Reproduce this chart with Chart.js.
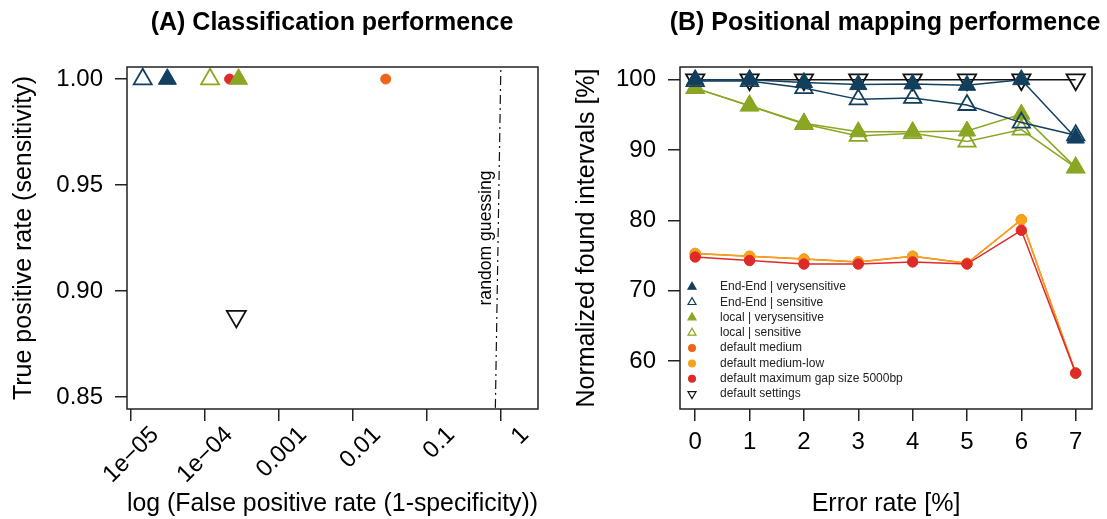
<!DOCTYPE html>
<html>
<head>
<meta charset="utf-8">
<script src="https://cdn.jsdelivr.net/npm/chart.js@4.4.0/dist/chart.umd.min.js"></script>
<style>
  html, body { margin: 0; padding: 0; background: #fff; overflow: hidden; width: 1107px; height: 519px; }
  #wrapA { position: absolute; left: 0; top: 0; width: 664px; height: 519px; }
  #wrapB { position: absolute; left: 553px; top: 0; width: 664px; height: 519px; }
</style>
</head>
<body>
<div id="wrapA"><canvas id="chartA" width="664" height="519"></canvas></div>
<div id="wrapB"><canvas id="chartB" width="664" height="519"></canvas></div>
<script>
// ---- panel A: classification ----
const classLabels = ['End-End | verysensitive', 'End-End | sensitive', 'local | verysensitive',
  'local | sensitive', 'default medium', 'default maximum gap size 5000bp', 'default settings'];
const classFpr = [3.1e-5, 1.44e-5, 2.84e-4, 1.17e-4, 0.0277, 2.15e-4, 2.65e-4];
const classTpr = [1, 1, 1, 1, 1, 1, 0.888];
const fprTicks = [1e-5, 1e-4, 1e-3, 1e-2, 1e-1, 1];
const fprTickLabels = ['1e\u221205', '1e\u221204', '0.001', '0.01', '0.1', '1'];
const tprTicks = [0.85, 0.90, 0.95, 1.00];
const tprTickLabels = ['0.85', '0.90', '0.95', '1.00'];
const randomLine = [0.8, 1.1]; // y = x

// ---- panel B: positional mapping ----
const errorRate = [0, 1, 2, 3, 4, 5, 6, 7];
const eeVery = [100, 100, 99.6, 99.3, 99.4, 99.2, 100, 91.7];
const eeSens = [99.8, 99.8, 98.8, 97.2, 97.4, 96.4, 93.9, 92.1];
const localVery = [98.8, 96.3, 93.8, 92.6, 92.6, 92.7, 95.1, 87.5];
const localSens = [98.8, 96.3, 93.7, 92.0, 92.4, 91.2, 92.9, 87.5];
const defMedium = [75.3, 74.9, 74.5, 74.1, 74.9, 73.9, 80.1, 58.3];
const defMediumLow = [75.3, 74.9, 74.5, 74.1, 74.9, 73.9, 80.1, 58.3];
const defMaxGap = [74.8, 74.3, 73.8, 73.8, 74.1, 73.8, 78.6, 58.3];
const defSettings = [100, 100, 100, 100, 100, 100, 100, 100];
const mapLabels = ['End-End | verysensitive', 'End-End | sensitive', 'local | verysensitive', 'local | sensitive',
  'default medium', 'default medium-low', 'default maximum gap size 5000bp', 'default settings'];
const mapYTicks = [60, 70, 80, 90, 100];

const FONT = '"Liberation Sans", Arial, sans-serif';
Chart.defaults.font.family = FONT;
Chart.defaults.color = '#000';

const blue = '#123f5e', green = '#8aa622', orange = '#f0631c', amber = '#f5a31c', red = '#df2a2a';

// marker style per series, in legend order
const styles = {
  'End-End | verysensitive': { c: blue, fill: blue, ps: 'triangle', rot: 0, order: 1 },
  'End-End | sensitive': { c: blue, fill: 'rgba(0,0,0,0)', ps: 'triangle', rot: 0, order: 2 },
  'local | verysensitive': { c: green, fill: green, ps: 'triangle', rot: 0, order: 3 },
  'local | sensitive': { c: green, fill: 'rgba(0,0,0,0)', ps: 'triangle', rot: 0, order: 4 },
  'default medium': { c: orange, fill: orange, ps: 'circle', rot: 0, order: 7 },
  'default medium-low': { c: amber, fill: amber, ps: 'circle', rot: 0, order: 6 },
  'default maximum gap size 5000bp': { c: red, fill: red, ps: 'circle', rot: 0, order: 5 },
  'default settings': { c: '#111', fill: 'rgba(0,0,0,0)', ps: 'triangle', rot: 180, order: 8 }
};

function markerProps(label, triR, circR) {
  const s = styles[label];
  const open = s.fill === 'rgba(0,0,0,0)';
  return {
    pointStyle: s.ps,
    pointRotation: s.rot,
    pointRadius: s.ps === 'circle' ? circR : (s.rot ? triR + 0.6 : triR),
    pointBorderColor: s.c,
    pointBackgroundColor: s.fill,
    pointBorderWidth: open ? 1.8 : 1,
    order: s.order
  };
}

// box around the plot region
const frame = {
  id: 'frame',
  afterDraw(chart) {
    const { ctx, chartArea: a } = chart;
    ctx.save();
    ctx.strokeStyle = '#222';
    ctx.lineWidth = 1.5;
    ctx.strokeRect(a.left, a.top, a.right - a.left, a.bottom - a.top);
    ctx.restore();
  }
};

const guessLabel = {
  id: 'guessLabel',
  afterDatasetsDraw(chart) {
    const { ctx, chartArea: a, scales: { x, y } } = chart;
    const yMid = (a.top + a.bottom) / 2;
    const xPix = x.getPixelForValue(y.getValueForPixel(yMid)) - 12;
    ctx.save();
    ctx.translate(xPix, yMid);
    ctx.rotate(-Math.PI / 2);
    ctx.font = '17.6px ' + FONT;
    ctx.fillStyle = '#000';
    ctx.textAlign = 'center';
    ctx.textBaseline = 'middle';
    ctx.fillText('random guessing', 0, 0);
    ctx.restore();
  }
};

// legend in the lower-left corner of the plot, no box
const innerLegend = {
  id: 'innerLegend',
  afterDraw(chart) {
    const { ctx, chartArea: a } = chart;
    const ds = chart.data.datasets;
    const rowH = 15.3;
    ds.forEach((d, i) => {
      const y = a.bottom - 15 - (ds.length - 1 - i) * rowH;
      ctx.save();
      ctx.fillStyle = d.pointBackgroundColor;
      ctx.strokeStyle = d.pointBorderColor;
      ctx.lineWidth = 1.2;
      Chart.helpers.drawPoint(ctx, {
        pointStyle: d.pointStyle, rotation: d.pointRotation || 0,
        radius: d.pointStyle === 'circle' ? 3.4 : 4.6, borderWidth: 1.2
      }, a.left + 12, y);
      ctx.fillStyle = '#222';
      ctx.font = '12px ' + FONT;
      ctx.textAlign = 'left';
      ctx.textBaseline = 'middle';
      ctx.fillText(d.label, a.left + 40, y);
      ctx.restore();
    });
  }
};

function tickGrid() {
  return { drawOnChartArea: false, drawTicks: true, tickLength: 12, color: '#222', lineWidth: 1.5 };
}

// empty right axis: keeps the plot narrower while the title stays centred on the canvas
function spacerAxis(w) {
  return {
    position: 'right',
    afterFit: s => { s.width = w; },
    grid: { display: false },
    border: { display: false },
    ticks: { display: false }
  };
}

const tickFont = { size: 24, family: FONT };
const axisTitleFont = { size: 25, family: FONT };
const titleFont = { size: 25, weight: 'bold', family: FONT };

// ---------- chart A ----------
const dsA = classLabels.map((lab, i) => Object.assign({
  label: lab,
  data: [{ x: classFpr[i], y: classTpr[i] }],
  clip: false
}, markerProps(lab, 10.4, 5)));
dsA.push({
  label: 'random guessing',
  data: randomLine.map(v => ({ x: v, y: v })),
  showLine: true,
  borderColor: '#111',
  borderWidth: 1.2,
  borderDash: [9, 4, 2, 4],
  pointRadius: 0,
  order: 9
});

new Chart(document.getElementById('chartA'), {
  type: 'scatter',
  plugins: [frame, guessLabel],
  data: { datasets: dsA },
  options: {
    responsive: false,
    animation: false,
    devicePixelRatio: 1,
    layout: { padding: 0 },
    plugins: {
      legend: { display: false },
      tooltip: { enabled: false },
      title: {
        display: true,
        text: '(A) Classification performence',
        color: '#000',
        font: titleFont,
        padding: { top: 8, bottom: 29 }
      }
    },
    scales: {
      x: {
        type: 'logarithmic',
        min: Math.pow(10, -5.054),
        max: Math.pow(10, 0.5),
        afterBuildTicks: s => { s.ticks = fprTicks.map(v => ({ value: v })); },
        afterFit: s => { s.height = 110; },
        border: { display: false },
        grid: tickGrid(),
        ticks: {
          autoSkip: false, minRotation: 45, maxRotation: 45, labelOffset: 24, padding: 0,
          color: '#000', font: tickFont,
          callback: (v, i) => fprTickLabels[i]
        },
        title: {
          display: true, text: 'log (False positive rate (1-specificity))', color: '#000',
          font: axisTitleFont, padding: { top: 0, bottom: 0 }
        }
      },
      y: {
        min: 0.8443,
        max: 1.0057,
        afterBuildTicks: s => { s.ticks = tprTicks.map(v => ({ value: v })); },
        afterFit: s => { s.width = 127; },
        border: { display: false },
        grid: tickGrid(),
        ticks: {
          autoSkip: false, padding: 12, color: '#000', font: tickFont,
          callback: (v, i) => tprTickLabels[i]
        },
        title: {
          display: true, text: 'True positive rate (sensitivity)', color: '#000',
          font: axisTitleFont, padding: { top: 9, bottom: 0 }
        }
      },
      yRight: spacerAxis(126)
    }
  }
});

// ---------- chart B ----------
const mapSeries = [eeVery, eeSens, localVery, localSens, defMedium, defMediumLow, defMaxGap, defSettings];
const dsB = mapLabels.map((lab, i) => Object.assign({
  label: lab,
  data: errorRate.map((e, j) => ({ x: e, y: mapSeries[i][j] })),
  showLine: true,
  borderColor: styles[lab].c,
  borderWidth: 1.5,
  clip: false
}, markerProps(lab, 10, 5.2)));

new Chart(document.getElementById('chartB'), {
  type: 'scatter',
  plugins: [frame, innerLegend],
  data: { datasets: dsB },
  options: {
    responsive: false,
    animation: false,
    devicePixelRatio: 1,
    layout: { padding: 0 },
    plugins: {
      legend: { display: false },
      tooltip: { enabled: false },
      title: {
        display: true,
        text: '(B) Positional mapping performence',
        color: '#000',
        font: titleFont,
        padding: { top: 8, bottom: 29 }
      }
    },
    scales: {
      x: {
        type: 'linear',
        min: -0.28,
        max: 7.3,
        afterBuildTicks: s => { s.ticks = errorRate.map(v => ({ value: v })); },
        afterFit: s => { s.height = 110; },
        border: { display: false },
        grid: tickGrid(),
        ticks: { autoSkip: false, maxRotation: 0, padding: 7, color: '#000', font: tickFont },
        title: {
          display: true, text: 'Error rate [%]', color: '#000',
          font: axisTitleFont, padding: { top: 0, bottom: 0 }
        }
      },
      y: {
        min: 53.2,
        max: 101.8,
        afterBuildTicks: s => { s.ticks = mapYTicks.map(v => ({ value: v })); },
        afterFit: s => { s.width = 127; },
        border: { display: false },
        grid: tickGrid(),
        ticks: { autoSkip: false, padding: 12, color: '#000', font: tickFont },
        title: {
          display: true, text: 'Normalized found intervals [%]', color: '#000',
          font: axisTitleFont, padding: { top: 19, bottom: 0 }
        }
      },
      yRight: spacerAxis(125)
    }
  }
});
</script>
</body>
</html>
